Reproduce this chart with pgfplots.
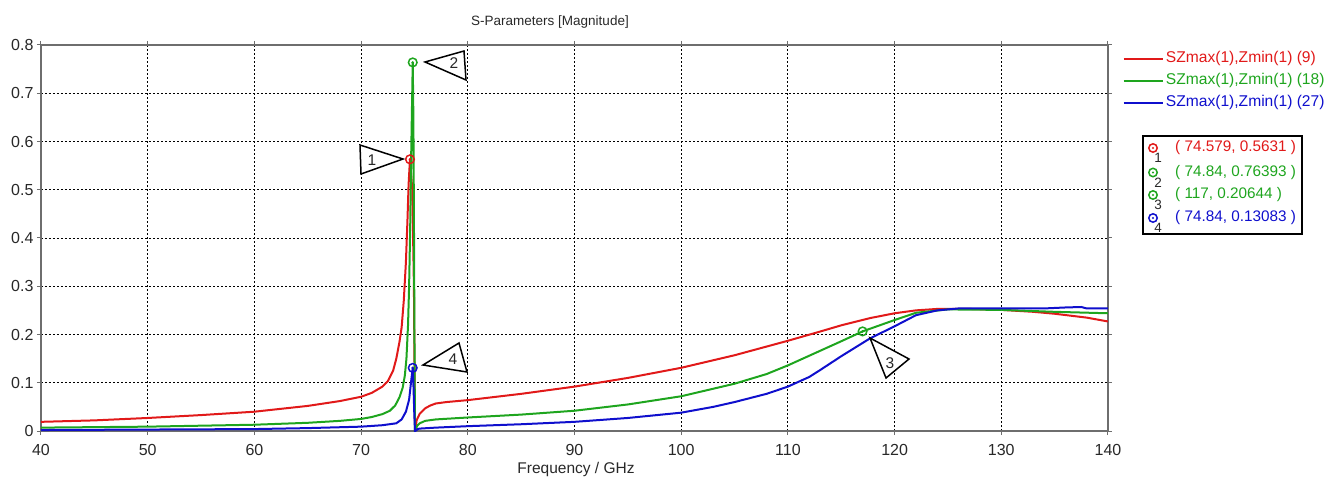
\documentclass[border=0pt]{standalone}
\usepackage{pgfplots}
\pgfplotsset{compat=1.18}
\usepackage{fontspec}
\setmainfont{Liberation Sans}
\definecolor{cred}{RGB}{225,25,25}
\definecolor{cgreen}{RGB}{30,165,30}
\definecolor{cblue}{RGB}{15,15,205}
\definecolor{frame}{RGB}{110,110,110}
\definecolor{txt}{RGB}{40,40,40}
\begin{document}
\begin{tikzpicture}[x=1pt,y=1pt]
\useasboundingbox (-41,-51) rectangle (1300,431);
\begin{axis}[
 at={(0,0)}, anchor=south west,
 scale only axis, width=1067pt, height=386pt,
 xmin=40, xmax=140, ymin=0, ymax=0.8,
 xtick={40,50,60,70,80,90,100,110,120,130,140},
 ytick={0,0.1,0.2,0.3,0.4,0.5,0.6,0.7,0.8},
 grid=major, grid style={black, dash pattern=on 2pt off 2pt, line width=0.8pt},
 axis line style={frame, line width=1.5pt},
 tick style={frame, line width=1pt},
 tick align=outside, major tick length=4pt,
 tick label style={font=\fontsize{16}{19}\selectfont, text=txt},
 xticklabel style={yshift=-6pt},
 /pgf/number format/assume math mode=true,
 yticklabel style={/pgf/number format/fixed, /pgf/number format/precision=1},
 legend style={at={(rel axis cs:1.011,0.995)}, anchor=north west, draw=none, fill=none,
   font=\fontsize{15.6}{18}\selectfont, row sep=3pt,
   nodes={text height=11pt, text depth=4pt, inner sep=2pt}},
 legend cell align=left,
 legend image code/.code={\draw[#1, line width=2pt] (0pt,0pt) -- (34pt,0pt); \path (0pt,0pt) -- (39pt,0pt);},
]
\addplot[cred, line width=2pt] coordinates {
(40,0.019)(45,0.022)(50,0.027)(55,0.033)(60,0.040)(65,0.052)(68,0.062)(70,0.071)
(71,0.079)(72,0.092)(72.5,0.103)(73,0.125)(73.3,0.150)(73.6,0.185)(73.8,0.215)
(74.0,0.27)(74.2,0.35)(74.35,0.44)(74.45,0.51)(74.579,0.5631)(74.8,0.50)(74.95,0.30)
(75.02,0.10)(75.06,0.0)(75.1,0.005)(75.2,0.022)(75.5,0.036)(76,0.047)(76.5,0.053)
(77,0.057)(78,0.060)(80,0.064)(85,0.077)(90,0.092)(95,0.110)(100,0.131)(105,0.157)
(110,0.187)(113,0.206)(115,0.219)(117.7,0.234)(120,0.244)(122,0.250)(124,0.253)
(127,0.253)(130,0.251)(133,0.247)(135,0.243)(138,0.235)(140,0.227)};
\addlegendentry{\textcolor{cred}{SZmax(1),Zmin(1) (9)}}
\addplot[cgreen, line width=2pt] coordinates {
(40,0.007)(45,0.008)(50,0.009)(55,0.011)(60,0.013)(65,0.017)(68,0.021)(70,0.025)
(71,0.029)(72,0.035)(72.7,0.042)(73.2,0.053)(73.6,0.070)(73.9,0.09)(74.1,0.115)
(74.25,0.15)(74.4,0.22)(74.5,0.30)(74.6,0.42)(74.7,0.58)(74.84,0.76393)(74.9,0.65)
(74.95,0.45)(75.0,0.2)(75.05,0.0)(75.1,0.004)(75.3,0.012)(75.5,0.016)(76,0.021)
(77,0.024)(80,0.028)(85,0.034)(90,0.042)(95,0.055)(100,0.072)(105,0.098)(108,0.118)
(110,0.136)(113,0.166)(115,0.186)(117,0.20644)(120,0.230)(122,0.245)(125,0.252)
(130,0.251)(135,0.247)(140,0.244)};
\addlegendentry{\textcolor{cgreen}{SZmax(1),Zmin(1) (18)}}
\addplot[cblue, line width=2pt] coordinates {
(40,0.002)(50,0.003)(60,0.004)(65,0.006)(70,0.009)(72,0.012)(73.3,0.016)(73.8,0.024)
(74.2,0.040)(74.5,0.065)(74.7,0.105)(74.84,0.13083)(74.9,0.10)(74.98,0.04)(75.05,0.0)
(75.15,0.001)(75.3,0.004)(75.5,0.005)(77,0.007)(80,0.010)(85,0.014)(90,0.019)(95,0.027)
(100,0.038)(103,0.050)(105,0.060)(108,0.077)(110,0.092)(112,0.112)(113,0.126)(115,0.155)
(117.7,0.192)(120,0.217)(122,0.240)(124,0.250)(126,0.254)(130,0.254)(134,0.254)
(136,0.256)(137.5,0.257)(138,0.254)(140,0.254)};
\addlegendentry{\textcolor{cblue}{SZmax(1),Zmin(1) (27)}}
% markers
\addplot[forget plot, only marks, cred, mark=o, mark size=4.3pt, mark options={line width=1.5pt}] coordinates {(74.579,0.5631)};
\addplot[forget plot, only marks, cred, mark=*, mark size=1.1pt] coordinates {(74.579,0.5631)};
\addplot[forget plot, only marks, cgreen, mark=o, mark size=4.3pt, mark options={line width=1.5pt}] coordinates {(74.84,0.76393)(117,0.20644)};
\addplot[forget plot, only marks, cgreen, mark=*, mark size=1.1pt] coordinates {(74.84,0.76393)(117,0.20644)};
\addplot[forget plot, only marks, cblue, mark=o, mark size=4.3pt, mark options={line width=1.5pt}] coordinates {(74.84,0.13083)};
\addplot[forget plot, only marks, cblue, mark=*, mark size=1.1pt] coordinates {(74.84,0.13083)};
\end{axis}
% title and label
\node[font=\fontsize{13.5}{16}\selectfont, text=txt] at (509,409) {S-Parameters [Magnitude]};
\node[font=\fontsize{15.5}{18}\selectfont, text=txt] at (535,-38) {Frequency / GHz};
% marker flags
\begin{scope}[line width=1.5pt, line join=miter]
\draw[fill=white] (319,286) -- (320,257) -- (362,272) -- cycle;
\draw[fill=white] (384,369) -- (423,380) -- (425,351) -- cycle;
\draw[fill=white] (382,66) -- (418,88) -- (426,59) -- cycle;
\draw[fill=white] (829,93) -- (868,72) -- (845,53) -- cycle;
\end{scope}
\begin{scope}[font=\fontsize{15.5}{18}\selectfont, text=txt]
\node at (331,271) {1};
\node at (413,368) {2};
\node at (412,72) {4};
\node at (849,68) {3};
\end{scope}
% readout box
\draw[black, line width=2pt] (1102,197) rectangle (1261,295);
\foreach \yy/\cc/\nn/\tt in {283/cred/1/{( 74.579, 0.5631 )},258.5/cgreen/2/{( 74.84, 0.76393 )},236/cgreen/3/{( 117, 0.20644 )},213/cblue/4/{( 74.84, 0.13083 )}}{
  \draw[\cc, line width=1.5pt] (1112,\yy) circle (4.2pt);
  \fill[\cc] (1112,\yy) circle (1.1pt);
  \node[font=\fontsize{13.5}{15}\selectfont, text=txt, inner sep=0pt] at (1117,\yy-10) {\nn};
  \node[font=\fontsize{15.3}{18}\selectfont, text=\cc, anchor=west, inner sep=0pt] at (1134,\yy) {\tt};
}
\end{tikzpicture}
\end{document}
